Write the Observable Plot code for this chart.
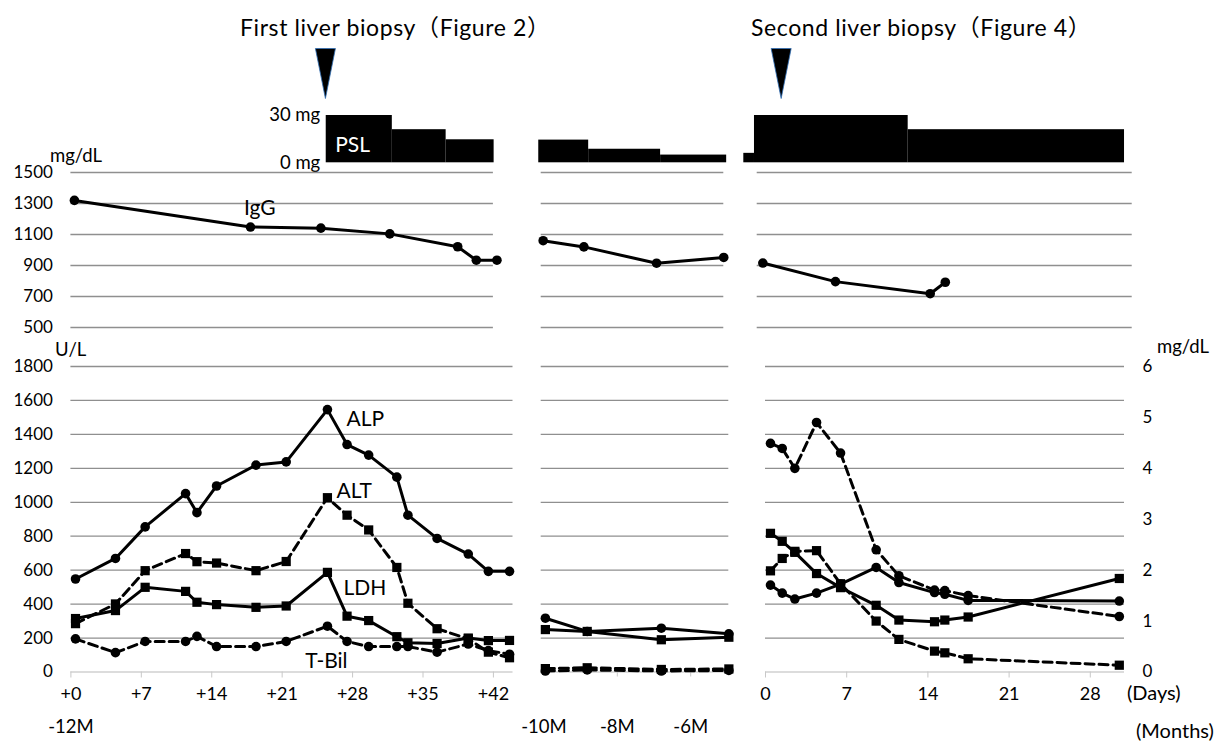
<!DOCTYPE html>
<html><head><meta charset="utf-8">
<script src="https://cdn.jsdelivr.net/npm/d3@7"></script>
<script src="https://cdn.jsdelivr.net/npm/@observablehq/plot@0.6"></script>
<style>
body{margin:0;background:#fff;}
#fig{position:relative;width:1216px;height:744px;overflow:hidden;background:#fff;font-family:Lato,"Noto Sans CJK JP",sans-serif;color:#000;}
#fig svg{position:absolute;left:0;top:0;}
.t{position:absolute;white-space:nowrap;line-height:1;}
</style></head>
<body><div id="fig"></div>
<script>
// ---------- DATA ----------
// First period (days from +0, i.e. 12 months earlier)
const daysLeft = [0.46,4.43,7.38,11.4,12.53,14.48,18.4,21.4,25.5,27.45,29.6,32.4,33.5,36.4,39.5,41.5,43.6];
const alpLeft  = [548,669,855,1051,939,1096,1219,1238,1546,1340,1278,1148,924,787,695,593,593];
const altLeft  = [285,401,597,698,650,642,597,651,1027,924,837,616,405,255,195,117,84];
const ldhLeft  = [315,362,499,475,411,397,381,389,587,329,303,208,172,168,200,185,186];
const tbilLeft = [0.65,0.38,0.6,0.6,0.7,0.5,0.5,0.6,0.9,0.6,0.5,0.5,0.5,0.39,0.55,0.42,0.35];
const iggDaysLeft = [0.35,17.85,24.85,31.7,38.45,40.3,42.35];
const iggLeft     = [1320,1148,1141,1104,1021,934,934];
const pslStartLeft = [25.38,31.95,37.3];
const pslEndLeft   = [31.95,37.3,42.07];
const pslDoseLeft  = [30,21,14.6];
const biopsy1Day = [25.3];

// Middle period (months)
const monthsMid = [-9.96,-8.82,-6.8,-4.96];
const alpMid  = [317,239,258,225];
const ldhMid  = [250,239,190,205];
const altMid  = [20,25,15,18];
const tbilMid = [0.02,0.04,0.02,0.03];
const iggMonthsMid = [-10.02,-8.91,-6.93,-5.1];
const iggMid = [1060,1020,915,952];
const pslStartMid = [-10.14,-8.78,-6.82];
const pslEndMid   = [-8.78,-6.82,-5.02];
const pslDoseMid  = [14.4,8.6,4.9];

// Second period (days)
const daysRight = [0.43,1.44,2.53,4.4,6.47,9.54,11.5,14.57,15.46,17.47,30.5];
const alpRight  = [512,465,430,465,518,616,527,468,458,422,418];
const ldhRight  = [817,770,705,580,497,393,306,296,306,324,551];
const altRight  = [596,669,711,715,520,300,192,123,113,78,40];
const tbilRight = [4.49,4.39,4.0,4.9,4.3,2.4,1.89,1.61,1.6,1.5,1.09];
const iggDaysRight = [-0.23,6.03,14.2,15.5];
const iggRight     = [916,796,718,792];
const pslStartRight = [-1.87,-0.95,12.3];
const pslEndRight   = [-0.95,12.3,30.95];
const pslDoseRight  = [6,30,21];
const biopsy2Day = [1.35];

// Ticks
const iggTicks = [500,700,900,1100,1300,1500];
const ulTicks = [0,200,400,600,800,1000,1200,1400,1600,1800];
const mgTicks = [0,1,2,3,4,5,6];
const pslTicks = [0,30];
const dayTicksLeft = [0,7,14,21,28,35,42];
const dayTicksRight = [0,7,14,21,28];
const monthTicks = [-10,-8,-6];
const monthMinorTicks = [-8,-6];

// ---------- LAYOUT ----------
const W = 1216, H = 744;
const fig = document.getElementById("fig");
const LX = {o:70.4, k:10.06}, MX = {o:910.4, k:36.7}, RX = {o:765, k:11.6};
const L_UP = {l:70.4, r:492.9, t:172, b:327}, L_LO = {l:70.4, r:512.5, t:366, b:671.5};
const M_UP = {l:540.7, r:723.3, t:172, b:327}, M_LO = {l:540.7, r:728.3, t:366, b:671.5};
const R_UP = {l:756.7, r:1131.7, t:172, b:327}, R_LO = {l:765, r:1124, t:366, b:671.5};
const PSL = {t:115, b:162.3}, HEAD = {t:48, b:98};
const dom = (box, s) => [(box.l - s.o)/s.k, (box.r - s.o)/s.k];
const GRID = {stroke:"#8f8f8f", strokeWidth:1.3};
const BASE = {stroke:"#d0d0d0", strokeWidth:1.3};
const plain = d => String(d);

function panel(box, xs, yDomain, marks) {
  const svg = Plot.plot({
    width: W, height: H,
    marginLeft: box.l, marginRight: W - box.r, marginTop: box.t, marginBottom: H - box.b,
    x: {domain: dom(box, xs), axis: null, label: null},
    y: {domain: yDomain, axis: null, label: null},
    style: "background: transparent; overflow: visible; max-width: none; font-family: Lato, 'Noto Sans CJK JP', sans-serif; font-size: 17px; color: #000;",
    marks
  });
  svg.style.position = "absolute"; svg.style.left = "0px"; svg.style.top = "0px";
  fig.append(svg);
}
function series(xv, yv, dashed, sym) {
  return [
    Plot.lineY(yv, {x: xv, stroke: "#000", strokeWidth: 3, strokeDasharray: dashed ? "9,5" : null}),
    Plot.dot(yv, {x: xv, y: d => d, symbol: sym, r: sym === "square" ? 5.2 : 4.8, fill: "#000", stroke: "none"})
  ];
}
function label(txt, x, y, size, extra = "") {
  const d = document.createElement("div");
  d.className = "t"; d.textContent = txt;
  d.style.cssText += `font-size:${size}px;top:${y - size*0.62}px;left:${x}px;${extra}`;
  fig.append(d);
}
const tri = {draw(ctx, size) { const r = Math.sqrt(size/Math.PI); ctx.moveTo(-r, -2.5*r); ctx.lineTo(r, -2.5*r); ctx.lineTo(0, 2.5*r); ctx.closePath(); }};

// ---------- HEADERS (biopsy markers) ----------
panel({l:L_UP.l, r:L_UP.r, t:HEAD.t, b:HEAD.b}, LX, [0,1], [
  Plot.dot(biopsy1Day, {x: d => d, frameAnchor: "middle", symbol: tri, r: 10, fill: "#000", stroke: "#2f6db5", strokeWidth: 0.8})
]);
panel({l:R_UP.l, r:R_UP.r, t:HEAD.t, b:HEAD.b}, RX, [0,1], [
  Plot.dot(biopsy2Day, {x: d => d, frameAnchor: "middle", symbol: tri, r: 10, fill: "#000", stroke: "#2f6db5", strokeWidth: 0.8})
]);
label("First liver biopsy（Figure 2）", 240, 30, 23, "letter-spacing:0.6px;");
label("Second liver biopsy（Figure 4）", 751, 30, 23, "letter-spacing:0.6px;");

// ---------- PSL ----------
panel({l:L_UP.l, r:L_UP.r, t:PSL.t, b:PSL.b}, LX, [0,30], [
  Plot.rect(pslDoseLeft, {x1: pslStartLeft, x2: pslEndLeft, y1: 0, y2: d => d, fill: "#000"}),
  Plot.text(pslTicks, {x: pslStartLeft[0], y: d => d, text: d => d + " mg", textAnchor: "end", dx: -6, fontSize: 18.5}),
  Plot.text(["PSL"], {x: pslStartLeft[0], y: 11, text: d => d, textAnchor: "start", dx: 9, fill: "#fff", fontSize: 21})
]);
panel({l:M_UP.l, r:M_UP.r, t:PSL.t, b:PSL.b}, MX, [0,30], [
  Plot.rect(pslDoseMid, {x1: pslStartMid, x2: pslEndMid, y1: 0, y2: d => d, fill: "#000"})
]);
panel({l:R_UP.l, r:R_UP.r, t:PSL.t, b:PSL.b}, RX, [0,30], [
  Plot.rect(pslDoseRight, {x1: pslStartRight, x2: pslEndRight, y1: 0, y2: d => d, fill: "#000"})
]);

// ---------- IgG ----------
panel(L_UP, LX, [500,1500], [
  Plot.ruleY(iggTicks, GRID),
  Plot.axisY(iggTicks, {anchor: "left", tickSize: 0, tickPadding: 18, tickFormat: plain, label: null}),
  Plot.text(["IgG"], {x: 17.2, y: 1272, text: d => d, textAnchor: "start", fontSize: 21}),
  ...series(iggDaysLeft, iggLeft, false, "circle")
]);
panel(M_UP, MX, [500,1500], [
  Plot.ruleY(iggTicks, GRID),
  ...series(iggMonthsMid, iggMid, false, "circle")
]);
panel(R_UP, RX, [500,1500], [
  Plot.ruleY(iggTicks, GRID),
  ...series(iggDaysRight, iggRight, false, "circle")
]);

// ---------- Lab panels (U/L) ----------
panel(L_LO, LX, [0,1800], [
  Plot.ruleY(ulTicks.filter(d => d > 0), GRID),
  Plot.ruleY([0], BASE),
  Plot.axisY(ulTicks, {anchor: "left", tickSize: 0, tickPadding: 18, tickFormat: plain, label: null}),
  Plot.axisX(dayTicksLeft, {anchor: "bottom", tickSize: 6, tickPadding: 9, stroke: "#c8c8c8", tickFormat: d => "+" + d, fontSize: 18, label: null}),
  Plot.axisX([0], {anchor: "bottom", tickSize: 0, tickPadding: 48, tickFormat: () => "-12M", fontSize: 18.5, label: null}),
  ...series(daysLeft, alpLeft, false, "circle"),
  ...series(daysLeft, ldhLeft, false, "square"),
  ...series(daysLeft, altLeft, true, "square"),
  Plot.text(["ALP"], {x: 27.4, y: 1489, text: d => d, textAnchor: "start", fontSize: 21}),
  Plot.text(["ALT"], {x: 26.4, y: 1066, text: d => d, textAnchor: "start", fontSize: 21}),
  Plot.text(["LDH"], {x: 27.1, y: 491, text: d => d, textAnchor: "start", fontSize: 21}),
  Plot.text(["T-Bil"], {x: 25.4, y: 63, text: d => d, textAnchor: "middle", fontSize: 21})
]);
panel(L_LO, LX, [0,6], [...series(daysLeft, tbilLeft, true, "circle")]);

panel(M_LO, MX, [0,1800], [
  Plot.ruleY(ulTicks.filter(d => d > 0), GRID),
  Plot.ruleY([0], BASE),
  Plot.axisX(monthMinorTicks, {anchor: "bottom", tickSize: 5, tickFormat: () => "", stroke: "#c8c8c8", label: null}),
  Plot.axisX(monthTicks, {anchor: "bottom", tickSize: 0, tickPadding: 48, tickFormat: d => d + "M", fontSize: 18.5, label: null}),
  ...series(monthsMid, alpMid, false, "circle"),
  ...series(monthsMid, ldhMid, false, "square"),
  ...series(monthsMid, altMid, true, "square")
]);
panel(M_LO, MX, [0,6], [...series(monthsMid, tbilMid, true, "circle")]);

panel(R_LO, RX, [0,1800], [
  Plot.ruleY(ulTicks.filter(d => d > 0), GRID),
  Plot.ruleY([0], BASE),
  Plot.axisX(dayTicksRight, {anchor: "bottom", tickSize: 6, tickPadding: 9, stroke: "#c8c8c8", tickFormat: plain, fontSize: 18, label: null}),
  ...series(daysRight, alpRight, false, "circle"),
  ...series(daysRight, ldhRight, false, "square"),
  ...series(daysRight, altRight, true, "square")
]);
panel(R_LO, RX, [0,6], [
  Plot.axisY(mgTicks, {anchor: "right", tickSize: 0, tickPadding: 18, tickFormat: plain, label: null}),
  ...series(daysRight, tbilRight, true, "circle")
]);

// ---------- unit / axis captions ----------
label("mg/dL", 50, 157, 18.5);
label("U/L", 55, 351, 18.5);
label("mg/dL", 1157, 348, 18.5);
label("(Days)", 1127, 694, 20);
label("(Months)", 1136, 732, 20);
</script></body></html>
